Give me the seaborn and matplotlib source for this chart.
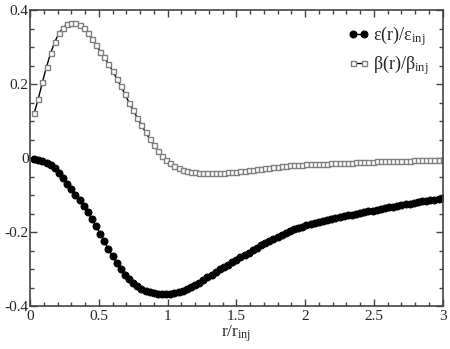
import numpy as np
import pandas as pd
import matplotlib
matplotlib.use("Agg")
import matplotlib.pyplot as plt
import seaborn as sns
from matplotlib.ticker import MultipleLocator

# radial grid r/r_inj (sampled every 0.03)
r = np.round(np.arange(1, 101) * 0.03, 2)

# emittance eps(r)/eps_inj
eps = [-0.002, -0.004, -0.008, -0.013, -0.019, -0.027, -0.040, -0.055, -0.069, -0.084,
       -0.099, -0.114, -0.129, -0.147, -0.165, -0.184, -0.204, -0.224, -0.246, -0.265,
       -0.283, -0.300, -0.315, -0.327, -0.338, -0.346, -0.353, -0.358, -0.362, -0.365,
       -0.367, -0.368, -0.368, -0.367, -0.365, -0.362, -0.358, -0.354, -0.349, -0.344,
       -0.337, -0.330, -0.322, -0.315, -0.308, -0.301, -0.295, -0.288, -0.281, -0.275,
       -0.268, -0.262, -0.256, -0.249, -0.243, -0.236, -0.230, -0.224, -0.218, -0.213,
       -0.208, -0.203, -0.198, -0.193, -0.189, -0.185, -0.181, -0.178, -0.175, -0.172,
       -0.169, -0.167, -0.164, -0.162, -0.159, -0.157, -0.155, -0.153, -0.151, -0.148,
       -0.146, -0.144, -0.142, -0.139, -0.137, -0.135, -0.133, -0.131, -0.129, -0.127,
       -0.125, -0.123, -0.121, -0.119, -0.117, -0.115, -0.114, -0.112, -0.110, -0.108]

# beta(r)/beta_inj
beta = [0.121, 0.160, 0.205, 0.247, 0.284, 0.314, 0.337, 0.353, 0.362, 0.365,
        0.364, 0.359, 0.351, 0.338, 0.323, 0.305, 0.288, 0.272, 0.255, 0.236,
        0.215, 0.195, 0.173, 0.150, 0.130, 0.109, 0.089, 0.070, 0.052, 0.035,
        0.020, 0.006, -0.005, -0.014, -0.021, -0.027, -0.031, -0.034, -0.037, -0.038,
        -0.039, -0.040, -0.040, -0.040, -0.040, -0.039, -0.039, -0.038, -0.038, -0.037,
        -0.036, -0.035, -0.033, -0.032, -0.030, -0.029, -0.027, -0.026, -0.025, -0.024,
        -0.022, -0.021, -0.020, -0.019, -0.019, -0.018, -0.017, -0.017, -0.016, -0.016,
        -0.015, -0.015, -0.014, -0.014, -0.013, -0.013, -0.012, -0.012, -0.011, -0.011,
        -0.011, -0.010, -0.010, -0.009, -0.009, -0.009, -0.008, -0.008, -0.008, -0.007,
        -0.007, -0.007, -0.006, -0.006, -0.006, -0.006, -0.005, -0.005, -0.005, -0.005]

xticks = [0, 0.5, 1, 1.5, 2, 2.5, 3]
xtick_labels = ["0", "0.5", "1", "1.5", "2", "2.5", "3"]
yticks = [-0.4, -0.2, 0, 0.2, 0.4]
ytick_labels = ["-0.4", "-0.2", "0", "0.2", "0.4"]

df = pd.DataFrame({"r": r, "eps": eps, "beta": beta})

sns.set_style("ticks")
plt.rcParams["font.family"] = ["Liberation Serif", "DejaVu Serif"]
plt.rcParams["mathtext.fontset"] = "custom"
plt.rcParams["mathtext.rm"] = "Liberation Serif"
plt.rcParams["mathtext.it"] = "Liberation Serif"

fig = plt.figure(figsize=(4.5, 3.49), dpi=100)
ax = fig.add_axes([0.0667, 0.123, 0.917, 0.848])

sns.lineplot(data=df, x="r", y="eps", ax=ax, color="black", linewidth=1,
             marker="o", markersize=5, markerfacecolor="black",
             markeredgecolor="black", label=r"$\mathrm{\varepsilon(r)/\varepsilon_{inj}}$")
sns.lineplot(data=df, x="r", y="beta", ax=ax, color="black", linewidth=1,
             marker="s", markersize=3.6, markerfacecolor="white",
             markeredgecolor="#808080", markeredgewidth=1,
             label=r"$\mathrm{\beta(r)/\beta_{inj}}$")

ax.set_xlim(0, 3)
ax.set_ylim(-0.4, 0.4)
ax.set_xticks(xticks, xtick_labels)
ax.set_yticks(yticks, ytick_labels)
ax.xaxis.set_minor_locator(MultipleLocator(0.1))
ax.yaxis.set_minor_locator(MultipleLocator(0.05))
ax.tick_params(which="both", direction="in", top=True, right=True,
               labelsize=11, width=1, color="#444444")
ax.tick_params(which="major", length=5)
ax.tick_params(which="minor", length=3)
ax.tick_params(axis="x", pad=3)
ax.tick_params(axis="y", pad=1)
for s in ax.spines.values():
    s.set_linewidth(1.2)
    s.set_color("#444444")

ax.set_xlabel(r"$\mathrm{r/r_{inj}}$", fontsize=12.5, labelpad=0)
ax.set_ylabel("")

ax.legend(loc="upper right", frameon=False, fontsize=13, numpoints=2,
          handlelength=1.2, handletextpad=0.2, labelspacing=0.25,
          borderaxespad=0.4)

fig.savefig("out.png", dpi=100)
